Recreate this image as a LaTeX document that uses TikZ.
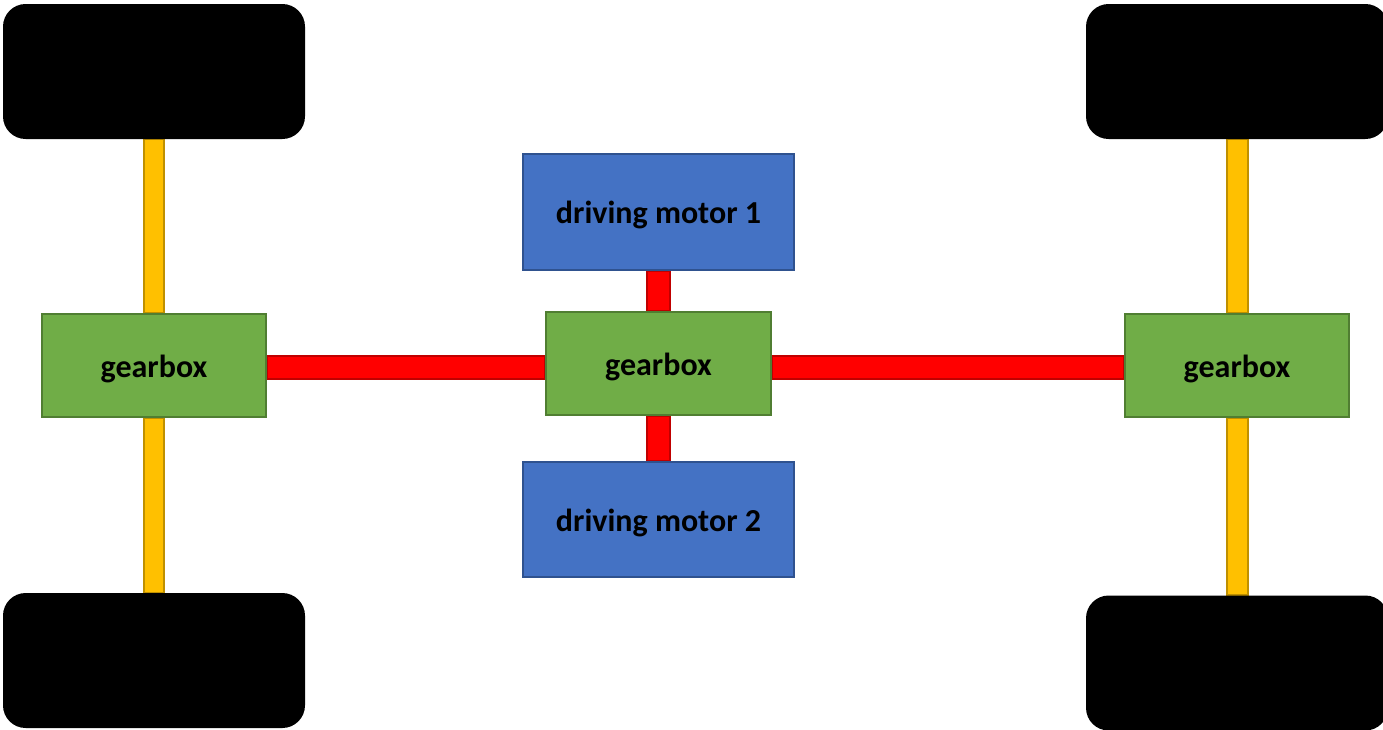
\documentclass[tikz,border=0pt]{standalone}
\usepackage{fontspec}
\setmainfont{Carlito}
\usetikzlibrary{backgrounds}
\definecolor{wheelblack}{HTML}{000000}
\definecolor{axlefill}{HTML}{FFC000}
\definecolor{axleline}{HTML}{BF9000}
\definecolor{shaftfill}{HTML}{FF0000}
\definecolor{shaftline}{HTML}{C00000}
\definecolor{gearfill}{HTML}{70AD47}
\definecolor{gearline}{HTML}{507E32}
\definecolor{motorfill}{HTML}{4472C4}
\definecolor{motorline}{HTML}{2F528F}
\begin{document}
\begin{tikzpicture}[x=0.75pt,y=-0.75pt,
  wheel/.style={fill=wheelblack, draw=none, rounded corners=17pt,
    minimum width=226.5pt, minimum height=101.25pt, inner sep=0pt},
  gear/.style={fill=gearfill, draw=gearline, line width=1.2pt,
    minimum width=168pt, minimum height=77.25pt, inner sep=0pt},
  motor/.style={fill=motorfill, draw=motorline, line width=1.2pt,
    minimum width=203.25pt, minimum height=87pt, inner sep=0pt},
  caption/.style={inner sep=0pt, yshift=-2.5pt,
    font=\bfseries\fontsize{24}{28}\selectfont},
  axle/.style={fill=axlefill, draw=axleline, line width=1.2pt},
  shaft/.style={fill=shaftfill, draw=shaftline, line width=1.2pt},
]
\useasboundingbox (0,0) rectangle (1383,729);
\clip (0,0) rectangle (1383,729);

% wheels
\node[wheel] (wtl) at (154,71.5) {};
\node[wheel] (wbl) at (154,660.5) {};
\node[wheel] (wtr) at (1237,71.5) {};
\node[wheel] (wbr) at (1237,663) {};

% gearboxes and motors
\node[gear] (gl) at (154,365.5) {};
\node[gear, minimum width=168.75pt] (gc) at (658.5,363.5) {};
\node[gear] (gr) at (1237,365.5) {};
\node[motor] (m1) at (658.5,212) {};
\node[motor, minimum height=86.25pt] (m2) at (658.5,519.5) {};

% captions, set a little below the box centres
\node[caption] (tgl) at (gl.center) {gearbox};
\node[caption] (tgc) at (gc.center) {gearbox};
\node[caption] (tgr) at (gr.center) {gearbox};
\node[caption] (tm1) at (m1.center) {driving motor 1};
\node[caption] (tm2) at (m2.center) {driving motor 2};

% coordinates fixing the shaft widths
\coordinate (ax1) at (144,0);
\coordinate (ax2) at (164,0);
\coordinate (ax3) at (1227,0);
\coordinate (ax4) at (1248,0);
\coordinate (sh1) at (0,356);
\coordinate (sh2) at (0,379);
\coordinate (sv1) at (647,0);
\coordinate (sv2) at (670,0);

\begin{scope}[on background layer]
  % yellow axles to the wheels
  \draw[axle] (ax1 |- wtl.south) rectangle (ax2 |- gl.north);
  \draw[axle] (ax1 |- gl.south) rectangle (ax2 |- wbl.north);
  \draw[axle] (ax3 |- wtr.south) rectangle (ax4 |- gr.north);
  \draw[axle] (ax3 |- gr.south) rectangle (ax4 |- wbr.north);
  % red drive shafts
  \draw[shaft] (gl.east |- sh1) rectangle (gc.west |- sh2);
  \draw[shaft] (gc.east |- sh1) rectangle (gr.west |- sh2);
  \draw[shaft] (sv1 |- m1.south) rectangle (sv2 |- gc.north);
  \draw[shaft] (sv1 |- gc.south) rectangle (sv2 |- m2.north);
\end{scope}
\end{tikzpicture}
\end{document}
